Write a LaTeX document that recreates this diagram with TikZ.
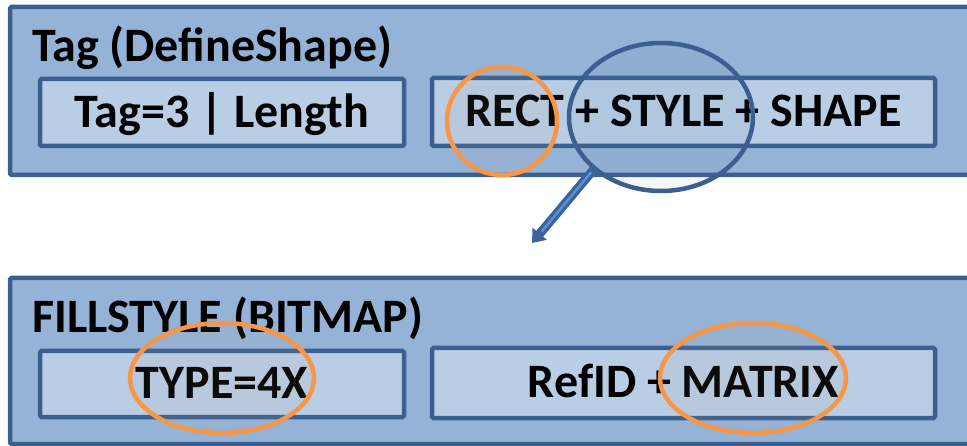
\documentclass[tikz,border=0pt]{standalone}
\usepackage{fontspec}
\setmainfont{Carlito}
\usetikzlibrary{shapes.geometric,arrows.meta}
\definecolor{outerfill}{HTML}{95B3D7}
\definecolor{innerfill}{HTML}{B9CDE5}
\definecolor{edgeblue}{HTML}{3C5F8F}
\definecolor{ringorange}{HTML}{F79646}
\definecolor{tintgray}{RGB}{175,160,140}
\definecolor{arrowdark}{HTML}{3A6399}
\definecolor{arrowlight}{HTML}{5B8FD6}
\begin{document}
\begin{tikzpicture}[x=1pt,y=-1pt,
  bigfont/.style={font=\fontsize{48}{52}\selectfont\bfseries},
  outerbox/.style={draw=edgeblue,fill=outerfill,line width=4.5pt,rounded corners=1.5pt,inner sep=0pt},
  innerbox/.style={draw=edgeblue,fill=innerfill,line width=4.5pt,rounded corners=1.5pt,inner sep=0pt,
    text height=30pt,text depth=0pt,bigfont},
  titletext/.style={anchor=base west,inner sep=0pt,bigfont},
  ring/.style={ellipse,draw=ringorange,line width=4.5pt,fill=tintgray,fill opacity=0.07,draw opacity=1,inner sep=0pt},
  lens/.style={ellipse,draw=edgeblue,line width=4.5pt,fill=edgeblue,fill opacity=0.06,draw opacity=1,inner sep=0pt}]
\useasboundingbox (0,0) rectangle (967,446);
% top group
\node[outerbox,minimum width=965pt,minimum height=168pt] (topbox) at (492.5,91) {};
\node[titletext] (toptitle) at (32,62) {Tag (DefineShape)};
\node[innerbox,minimum width=364pt,minimum height=67pt] (taglen) at (222,112.5) {Tag=3 | Length};
\node[innerbox,minimum width=503pt,minimum height=68pt] (rect) at (683.5,112) {RECT + STYLE + SHAPE};
% bottom group
\node[outerbox,minimum width=965pt,minimum height=166pt] (botbox) at (492.5,361) {};
\node[titletext] (bottitle) at (32,333) {FILLSTYLE (BITMAP)};
\node[innerbox,minimum width=364pt,minimum height=66pt] (type) at (222,384) {TYPE=4X};
\node[innerbox,minimum width=503pt,minimum height=70pt] (refid) at (683.5,383) {RefID + MATRIX};
% highlight rings
\node[ring,minimum width=110pt,minimum height=108pt] (ringrect) at (502,121) {};
\node[ring,minimum width=184pt,minimum height=110pt] (ringtype) at (222,378) {};
\node[ring,minimum width=186pt,minimum height=110pt] (ringmatrix) at (753,378) {};
% magnifier
\node[lens,minimum width=184pt,minimum height=148pt] (mag) at (661,117) {};
\coordinate (tip) at (532,243);
\draw[arrowdark,line width=9pt,-{Triangle[length=12pt,width=18pt]}] (mag.218) -- (tip);
\draw[arrowlight,line width=2.5pt,shorten >=15pt,shorten <=3pt] (mag.218) -- (tip);
\end{tikzpicture}
\end{document}
